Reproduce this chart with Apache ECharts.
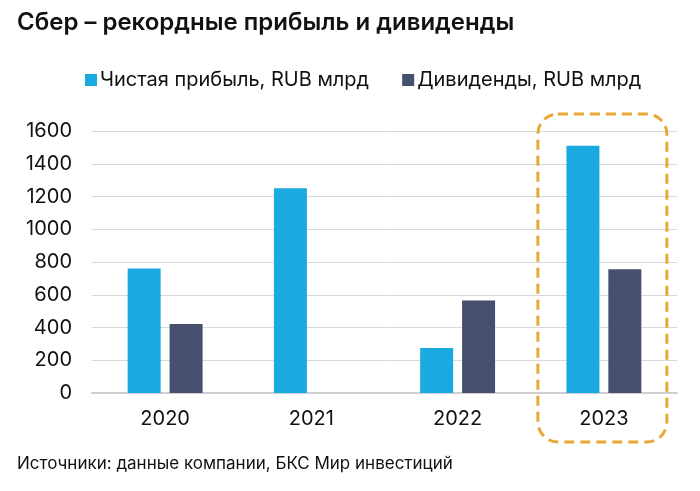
<!DOCTYPE html>
<html>
<head>
<meta charset="utf-8">
<script src="https://cdn.jsdelivr.net/npm/echarts@6/dist/echarts.min.js"></script>
<style>
  html, body { margin: 0; padding: 0; background: #fff; }
  #main { width: 700px; height: 491px; }
</style>
</head>
<body>
<div id="main"></div>
<script>
// данные графика
var years = ['2020', '2021', '2022', '2023'];
var netProfit = [760, 1250, 275, 1510];
var dividends = [422, 0, 565, 755];
var yTicks = [0, 200, 400, 600, 800, 1000, 1200, 1400, 1600];

var FONT = 'Inter, Roboto, sans-serif';
var myChart = echarts.init(document.getElementById('main'));

option = {
    animation: false,
    color: ['#1BA9E1', '#46506E'],
    textStyle: { fontFamily: FONT },
    title: {
        text: 'Сбер – рекордные прибыль и дивиденды',
        left: 12,
        top: 6,
        textStyle: { fontFamily: FONT, fontSize: 24, fontWeight: 600, color: '#111' }
    },
    legend: {
        top: 65,
        left: 80,
        itemWidth: 12,
        itemHeight: 12,
        itemGap: 33,
        icon: 'rect',
        textStyle: { fontFamily: FONT, fontSize: 20, color: '#111', padding: [0, 0, 0, -2] }
    },
    grid: {
        left: 92,
        right: 23,
        top: 131,
        bottom: 98
    },
    xAxis: {
        type: 'category',
        data: years,
        axisTick: { show: false },
        axisLine: { lineStyle: { color: '#cfcfcf', width: 2 } },
        axisLabel: { fontFamily: FONT, fontSize: 20, color: '#111', margin: 16 }
    },
    yAxis: {
        type: 'value',
        min: yTicks[0],
        max: yTicks[yTicks.length - 1],
        interval: 200,
        axisLabel: {
            fontFamily: FONT, fontSize: 20, color: '#111', margin: 20,
            formatter: function (v) { return String(v); }
        },
        splitLine: { lineStyle: { color: '#d9d9d9', width: 1 } }
    },
    series: [
        {
            name: 'Чистая прибыль, RUB млрд',
            type: 'bar',
            barWidth: 33,
            barGap: '27%',
            data: netProfit
        },
        {
            name: 'Дивиденды, RUB млрд',
            type: 'bar',
            barWidth: 33,
            data: dividends
        }
    ]
};

myChart.setOption(option);

// пунктирная рамка вокруг 2023
var cx = myChart.convertToPixel({ xAxisIndex: 0 }, '2023');
myChart.setOption({
    graphic: [
        {
            type: 'rect',
            shape: { x: cx - 66, y: 114, width: 129, height: 328, r: 20 },
            style: { fill: 'none', stroke: '#E8A838', lineWidth: 3, lineDash: [10, 6] },
            z: 10
        },
        {
            type: 'text',
            left: 17,
            top: 455,
            style: {
                text: 'Источники: данные компании, БКС Мир инвестиций',
                fontFamily: FONT,
                fontSize: 17,
                fill: '#111'
            }
        }
    ]
});
</script>
</body>
</html>
